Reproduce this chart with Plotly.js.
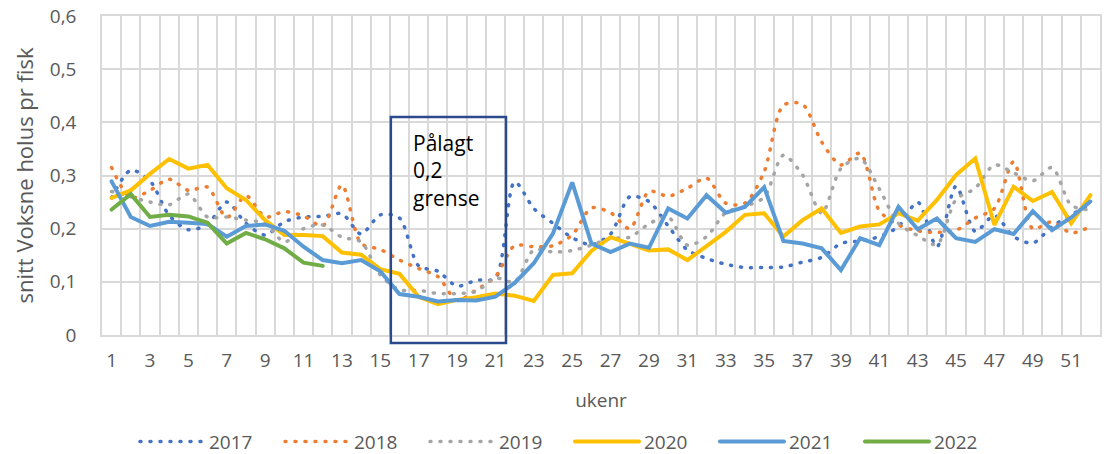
<!DOCTYPE html>
<html>
<head>
<meta charset="utf-8">
<script src="https://cdn.plot.ly/plotly-3.0.1.min.js"></script>
<style>
html,body{margin:0;padding:0;background:#fff;}
#chart{width:1110px;height:454px;}
path.js-line{stroke-linecap:round;}
</style>
</head>
<body>
<div id="chart"></div>
<script>
// weeks 1..52
const weeks = Array.from({length: 52}, (_, i) => i + 1);
const tickWeeks = [1,3,5,7,9,11,13,15,17,19,21,23,25,27,29,31,33,35,37,39,41,43,45,47,49,51];
const tickLabels = tickWeeks.map(String);
const yTicks = [0, 0.1, 0.2, 0.3, 0.4, 0.5, 0.6];

const y2017 = [0.258,0.31,0.29,0.225,0.198,0.208,0.25,0.21,0.188,0.213,0.222,0.223,0.228,0.19,0.226,0.22,0.13,0.12,0.092,0.103,0.107,0.288,0.238,0.21,0.183,0.17,0.19,0.26,0.251,0.205,0.16,0.144,0.133,0.127,0.127,0.128,0.137,0.146,0.172,0.177,0.185,0.204,0.25,0.166,0.28,0.195,0.225,0.185,0.173,0.204,0.226,0.245];
const y2018 = [0.315,0.258,0.272,0.293,0.272,0.278,0.221,0.262,0.222,0.232,0.224,0.205,0.282,0.172,0.161,0.141,0.125,0.11,0.065,0.085,0.11,0.168,0.166,0.168,0.188,0.239,0.23,0.2,0.27,0.261,0.276,0.295,0.248,0.248,0.307,0.432,0.434,0.363,0.32,0.342,0.234,0.207,0.196,0.193,0.197,0.22,0.238,0.326,0.2,0.213,0.192,0.204];
const y2019 = [0.27,0.26,0.25,0.245,0.265,0.222,0.222,0.216,0.21,0.175,0.2,0.207,0.184,0.175,0.113,0.085,0.084,0.078,0.078,0.082,0.107,0.1,0.16,0.156,0.159,0.169,0.182,0.184,0.209,0.222,0.169,0.185,0.23,0.242,0.259,0.338,0.301,0.229,0.313,0.332,0.275,0.21,0.187,0.17,0.255,0.276,0.32,0.305,0.29,0.315,0.244,0.235];
const y2020 = [0.258,0.272,0.303,0.331,0.313,0.32,0.276,0.254,0.216,0.188,0.188,0.186,0.155,0.151,0.124,0.115,0.072,0.058,0.066,0.071,0.078,0.074,0.064,0.113,0.116,0.158,0.184,0.172,0.159,0.161,0.141,0.167,0.194,0.226,0.229,0.185,0.216,0.238,0.192,0.204,0.208,0.229,0.215,0.254,0.301,0.332,0.207,0.279,0.252,0.269,0.21,0.263];
const y2021 = [0.289,0.222,0.205,0.213,0.211,0.209,0.185,0.205,0.208,0.196,0.166,0.141,0.135,0.141,0.12,0.077,0.072,0.063,0.066,0.065,0.072,0.098,0.135,0.191,0.287,0.172,0.156,0.172,0.164,0.238,0.219,0.263,0.23,0.241,0.278,0.177,0.172,0.163,0.122,0.182,0.169,0.241,0.199,0.219,0.182,0.175,0.199,0.19,0.233,0.197,0.221,0.251];
const y2022 = [0.236,0.265,0.222,0.226,0.223,0.211,0.172,0.192,0.18,0.163,0.136,0.13];

const seriesNames = ['2017','2018','2019','2020','2021','2022'];
const seriesColors = ['#4472C4','#ED7D31','#A5A5A5','#FFC000','#5B9BD5','#70AD47'];
const seriesValues = [y2017, y2018, y2019, y2020, y2021, y2022];
const seriesDotted = [true, true, true, false, false, false];

// box annotation ("Pålagt 0,2 grense")
const boxWeekFrom = 15.55, boxWeekTo = 21.55, boxTop = 0.41;
const boxText = 'Pålagt<br>0,2<br>grense';

const xMin = 0.5, xMax = 52.5, yMax = 0.6;
const px = w => (w - xMin) / (xMax - xMin);
const py = v => v / yMax;

const traces = seriesValues.map((vals, i) => ({
  type: 'scatter',
  mode: 'lines',
  name: seriesNames[i],
  x: weeks.slice(0, vals.length),
  y: vals,
  line: seriesDotted[i]
    ? {color: seriesColors[i], width: 3.5, dash: '1px,9px', shape: 'spline', smoothing: 0.8}
    : {color: seriesColors[i], width: 4},
  hoverinfo: 'x+y+name'
}));

const gridColor = '#D9D9D9';
const fontFam = '"Open Sans", "Noto Sans", sans-serif';

const layout = {
  width: 1110,
  height: 454,
  margin: {l: 102, r: 10, t: 16, b: 119},
  paper_bgcolor: '#ffffff',
  plot_bgcolor: '#ffffff',
  separators: ', ',
  font: {family: fontFam, size: 18, color: '#595959'},
  showlegend: true,
  legend: {
    orientation: 'h',
    xref: 'container', yref: 'container',
    x: 0.5135, xanchor: 'center',
    y: 0.027, yanchor: 'middle',
    font: {size: 19, color: '#595959'},
    itemwidth: 64,
    entrywidth: 66,
    traceorder: 'normal'
  },
  xaxis: {
    type: 'linear',
    range: [xMin, xMax],
    tickmode: 'array',
    tickvals: tickWeeks,
    ticktext: tickLabels,
    showgrid: false,
    zeroline: false,
    showline: true, mirror: true, linecolor: gridColor, linewidth: 1.5,
    ticks: '',
    ticklabelstandoff: 7,
    tickfont: {size: 19, color: '#595959'},
    minor: {tick0: 0.5, dtick: 1, showgrid: true, gridcolor: gridColor, gridwidth: 1.5, ticks: ''},
    title: {text: 'ukenr', font: {size: 19, color: '#595959'}, standoff: 22}
  },
  yaxis: {
    range: [0, yMax],
    tickmode: 'array',
    tickvals: yTicks,
    showgrid: true, gridcolor: gridColor, gridwidth: 1.5,
    zeroline: false,
    showline: true, mirror: true, linecolor: gridColor, linewidth: 1.5,
    ticks: '',
    ticklabelstandoff: 20,
    tickfont: {size: 19, color: '#595959'},
    title: {text: 'snitt Voksne holus pr fisk', font: {size: 22, color: '#595959'}, standoff: 10}
  },
  shapes: [{
    type: 'rect', xref: 'paper', yref: 'paper', layer: 'above',
    x0: px(boxWeekFrom), x1: px(boxWeekTo),
    y0: -0.025, y1: py(boxTop),
    line: {color: '#2B4A8B', width: 2.5},
    fillcolor: 'rgba(0,0,0,0)'
  }],
  annotations: [{
    xref: 'paper', yref: 'paper',
    x: px(boxWeekFrom) + 0.02, xanchor: 'left',
    y: py(boxTop) - 0.03, yanchor: 'top',
    text: boxText, showarrow: false, align: 'left',
    font: {family: fontFam, size: 21, color: '#000000'}
  }]
};

Plotly.newPlot('chart', traces, layout, {displayModeBar: false, responsive: false});
</script>
</body>
</html>
